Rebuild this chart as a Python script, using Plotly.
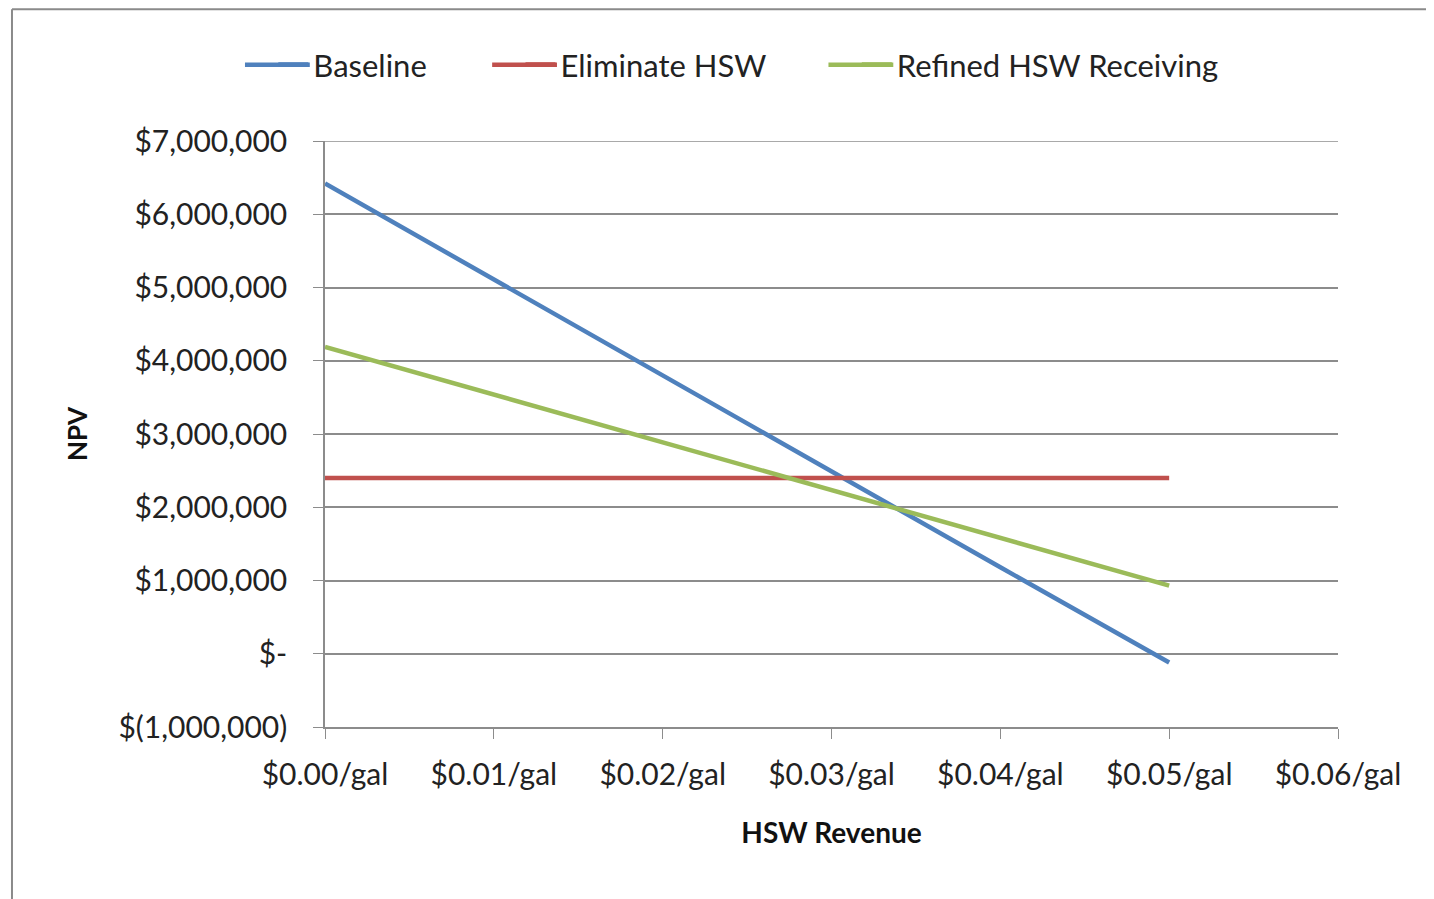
import plotly.graph_objects as go

# HSW revenue ($/gal) and NPV ($) per scenario
revenue = [0.00, 0.01, 0.02, 0.03, 0.04, 0.05]
baseline = [6420000, 5110000, 3800000, 2480000, 1180000, -120000]
eliminate_hsw = [2400000, 2400000, 2400000, 2400000, 2400000, 2400000]
refined_hsw = [4190000, 3540000, 2880000, 2230000, 1580000, 930000]

x_tickvals = [0, 0.01, 0.02, 0.03, 0.04, 0.05, 0.06]
x_ticktext = ["$0.00/gal", "$0.01/gal", "$0.02/gal", "$0.03/gal", "$0.04/gal", "$0.05/gal", "$0.06/gal"]
y_tickvals = [7000000, 6000000, 5000000, 4000000, 3000000, 2000000, 1000000, 0, -1000000]
y_ticktext = ["$7,000,000", "$6,000,000", "$5,000,000", "$4,000,000", "$3,000,000",
              "$2,000,000", "$1,000,000", "$-", "$(1,000,000)"]

series_colors = ["#4f81bd", "#c0504d", "#9bbb59"]

font_family = "Lato, 'Open Sans', sans-serif"
grid_color = "#8c8c8c"
text_color = "#222"

fig = go.Figure()
# each series gets its own legend box so the spacing can follow the reference
fig.add_trace(go.Scatter(x=revenue, y=baseline, mode="lines", name="Baseline",
                         line=dict(color=series_colors[0], width=4.5), legend="legend"))
fig.add_trace(go.Scatter(x=revenue, y=eliminate_hsw, mode="lines", name="Eliminate HSW",
                         line=dict(color=series_colors[1], width=4.5), legend="legend2"))
fig.add_trace(go.Scatter(x=revenue, y=refined_hsw, mode="lines", name="Refined HSW Receiving",
                         line=dict(color=series_colors[2], width=4.5), legend="legend3"))

fig.update_xaxes(
    range=[0, 0.06],
    tickvals=x_tickvals,
    ticktext=x_ticktext,
    ticks="outside",
    ticklen=10,
    tickcolor=grid_color,
    ticklabelstandoff=10,
    showline=True,
    linecolor=grid_color,
    linewidth=1.5,
    showgrid=False,
    zeroline=False,
    tickfont=dict(size=30, color=text_color),
    title=dict(text="<b>HSW Revenue</b>", font=dict(size=28, color="#111"), standoff=34),
)
fig.update_yaxes(
    range=[-1000000, 7000000],
    tickvals=y_tickvals,
    ticktext=y_ticktext,
    ticks="outside",
    ticklen=10,
    tickcolor=grid_color,
    showline=True,
    linecolor=grid_color,
    linewidth=1.5,
    showgrid=True,
    gridcolor=grid_color,
    gridwidth=1.5,
    zeroline=False,
    ticklabelstandoff=20,
    tickfont=dict(size=30, color=text_color),
    title=dict(text="<b>NPV</b>", font=dict(size=26, color="#111"), standoff=23),
)

# top gridline at $7,000,000 (sits on the plot edge)
fig.add_shape(type="line", xref="paper", yref="y", x0=0, x1=1, y0=7000000, y1=7000000,
              line=dict(color=grid_color, width=1.5))

# chart frame (left and top edges visible in the reference)
fig.add_shape(type="line", xref="paper", yref="paper", x0=-0.309, x1=-0.309, y0=-0.3, y1=1.225,
              line=dict(color="#8a8a8a", width=2))
fig.add_shape(type="line", xref="paper", yref="paper", x0=-0.309, x1=1.1, y0=1.225, y1=1.225,
              line=dict(color="#8a8a8a", width=2))

# legend boxes; the swatch lines are stretched a bit to the Excel-style length
legend_x = [-0.051, 0.193, 0.525]
legend_y = 1.13
legend_style = dict(
    orientation="h",
    xanchor="left",
    y=legend_y,
    yanchor="middle",
    font=dict(size=31, color=text_color),
    bgcolor="rgba(0,0,0,0)",
)
for lx, color in zip(legend_x, series_colors):
    fig.add_shape(type="line", xref="paper", yref="paper",
                  x0=lx - 0.028, x1=lx + 0.036, y0=legend_y, y1=legend_y,
                  line=dict(color=color, width=4.5))

fig.update_layout(
    width=1434,
    height=899,
    autosize=False,
    margin=dict(l=317, r=104, t=133, b=180),
    paper_bgcolor="white",
    plot_bgcolor="white",
    font=dict(family=font_family, color=text_color),
    showlegend=True,
    legend=dict(x=legend_x[0], **legend_style),
    legend2=dict(x=legend_x[1], **legend_style),
    legend3=dict(x=legend_x[2], **legend_style),
)

fig.write_html("out.html")
